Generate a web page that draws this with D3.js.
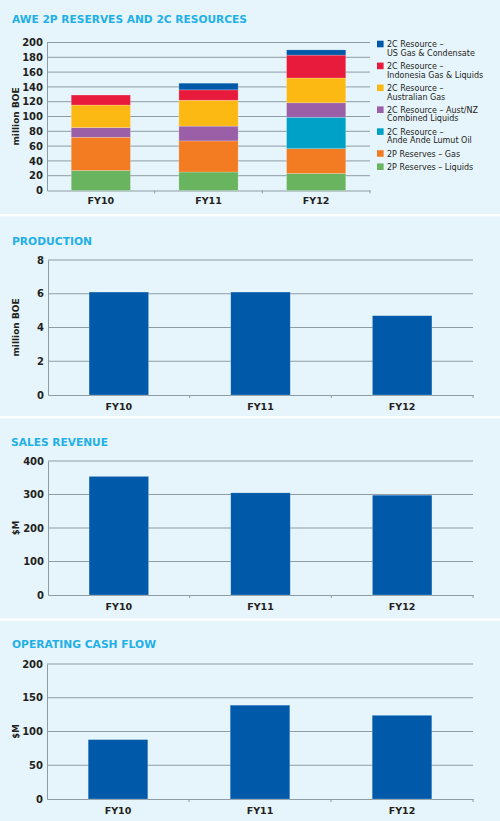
<!DOCTYPE html>
<html>
<head>
<meta charset="utf-8">
<script src="https://cdn.jsdelivr.net/npm/d3@7"></script>
<style>
  body { margin: 0; background: #e6f4fb; }
  svg { display: block; }
</style>
</head>
<body>
<div id="chart"></div>
<script>
// ---- data ----
var years = ['FY10', 'FY11', 'FY12'];

// stack series, bottom to top (million BOE)
var reserveSeries = ['liquids', 'gas', 'ande', 'austnz', 'ausgas', 'indo', 'us'];
var reserveNames = [
    ['2P Reserves \u2013 Liquids'],
    ['2P Reserves \u2013 Gas'],
    ['2C Resource \u2013', 'Ande Ande Lumut Oil'],
    ['2C Resource \u2013 Aust/NZ', 'Combined Liquids'],
    ['2C Resource \u2013', 'Australian Gas'],
    ['2C Resource \u2013', 'Indonesia Gas & Liquids'],
    ['2C Resource \u2013', 'US Gas & Condensate']
];
var liquids = [27, 25, 23];
var gas     = [45, 42, 33.5];
var ande    = [0, 0, 42.5];
var austnz  = [13, 20, 19.5];
var ausgas  = [30.5, 35, 33.5];
var indo    = [13.5, 14, 31];
var us      = [0, 9, 7];
var reserveTicks = [0, 20, 40, 60, 80, 100, 120, 140, 160, 180, 200];

var production = [6.1, 6.1, 4.7];
var productionTicks = [0, 2, 4, 6, 8];

var salesRevenue = [354, 305, 298];
var salesTicks = [0, 100, 200, 300, 400];

var cashFlow = [88, 139, 124];
var cashTicks = [0, 50, 100, 150, 200];

// ---- styles ----
var W = 500, H = 821;
var bg = '#e6f4fb';
var titleColor = '#1fb0e6';
var gridColor = '#8e9ca6';
var barBlue = '#005aa9';
var textColor = '#231f20';
var font = 'DejaVu Sans, Verdana, sans-serif';
var seriesColors = ['#68b45f', '#f37b21', '#00a1c7', '#9a5fa6', '#fdb913', '#e91b3d', '#0058a8'];

var svg = d3.select('#chart').append('svg')
    .attr('width', W)
    .attr('height', H);

svg.append('rect')
    .attr('width', W)
    .attr('height', H)
    .attr('fill', bg);

// white separators between the panels
[214, 416, 618.5].forEach(function(y){
    svg.append('rect')
        .attr('x', 0)
        .attr('y', y)
        .attr('width', W)
        .attr('height', 2.3)
        .attr('fill', '#ffffff');
});

function title(text, x, y, len){
    svg.append('text')
        .attr('x', x)
        .attr('y', y)
        .attr('font-family', font)
        .attr('font-weight', 'bold')
        .attr('font-size', '11px')
        .attr('fill', titleColor)
        .attr('textLength', len)
        .attr('lengthAdjust', 'spacingAndGlyphs')
        .text(text);
}

// draws the frame of one panel (grid, axes, labels) and returns the scales
function panelFrame(p){
    // bars sit centred in equal bands that start right at the axis
    var x = d3.scaleBand().domain(years).range([p.left, p.right])
        .paddingInner(p.pad).paddingOuter(p.pad / 2);
    var y = d3.scaleLinear().domain([0, p.ticks[p.ticks.length - 1]]).range([p.bottom, p.top]);

    var g = svg.append('g');

    // gridlines
    g.selectAll('line.grid')
        .data(p.ticks.slice(1))
        .enter().append('line')
        .attr('class', 'grid')
        .attr('x1', p.left)
        .attr('x2', p.right)
        .attr('y1', function(d){ return y(d); })
        .attr('y2', function(d){ return y(d); })
        .attr('stroke', gridColor)
        .attr('stroke-width', 1);

    // left axis with labels
    var yAxis = d3.axisLeft(y).tickValues(p.ticks).tickSize(0).tickPadding(4);
    var ya = g.append('g')
        .attr('transform', 'translate(' + p.left + ',0)')
        .call(yAxis);
    ya.select('.domain').attr('stroke', gridColor);
    ya.selectAll('text')
        .attr('font-family', font)
        .attr('font-weight', 'bold')
        .attr('font-size', '10px')
        .attr('fill', textColor);

    // baseline with small ticks between the bands
    var xAxis = d3.axisBottom(x).tickSize(0).tickPadding(p.labelPad);
    var xa = g.append('g')
        .attr('transform', 'translate(0,' + p.bottom + ')')
        .call(xAxis);
    xa.select('.domain').attr('stroke', gridColor).attr('stroke-width', 1.2);
    xa.selectAll('text')
        .attr('font-family', font)
        .attr('font-weight', 'bold')
        .attr('font-size', '9.5px')
        .attr('fill', textColor);

    var step = (p.right - p.left) / years.length;
    var bounds = [];
    for(var i = 1; i <= years.length; i++) bounds.push(p.left + i * step);
    g.selectAll('line.sep')
        .data(bounds)
        .enter().append('line')
        .attr('class', 'sep')
        .attr('x1', function(d){ return d; })
        .attr('x2', function(d){ return d; })
        .attr('y1', p.bottom)
        .attr('y2', p.bottom + 3)
        .attr('stroke', gridColor);

    // axis title
    g.append('text')
        .attr('transform', 'translate(' + p.labelX + ',' + ((p.top + p.bottom) / 2) + ') rotate(-90)')
        .attr('text-anchor', 'middle')
        .attr('font-family', font)
        .attr('font-weight', 'bold')
        .attr('font-size', p.labelSize)
        .attr('fill', textColor)
        .text(p.label);

    return {x: x, y: y, g: g};
}

function simpleBars(p, values){
    var s = panelFrame(p);
    s.g.selectAll('rect.bar')
        .data(values)
        .enter().append('rect')
        .attr('class', 'bar')
        .attr('x', function(d, i){ return s.x(years[i]); })
        .attr('width', s.x.bandwidth())
        .attr('y', function(d){ return s.y(d); })
        .attr('height', function(d){ return s.y(0) - s.y(d); })
        .attr('fill', barBlue)
        .attr('stroke', '#ffffff')
        .attr('stroke-opacity', 0.35)
        .attr('stroke-width', 0.6);
}

// ---- panel 1: reserves & resources (stacked) ----
title('AWE 2P RESERVES AND 2C RESOURCES', 12, 23, 235);

var rows = years.map(function(yr, i){
    return {year: yr, liquids: liquids[i], gas: gas[i], ande: ande[i], austnz: austnz[i],
            ausgas: ausgas[i], indo: indo[i], us: us[i]};
});
var stacked = d3.stack().keys(reserveSeries)(rows);

var s1 = panelFrame({left: 47, right: 370, top: 42.5, bottom: 190.5, pad: 0.45,
    ticks: reserveTicks, label: 'million BOE', labelX: 19, labelSize: '9px', labelPad: 7});

s1.g.selectAll('g.layer')
    .data(stacked)
    .enter().append('g')
    .attr('class', 'layer')
    .attr('fill', function(d, i){ return seriesColors[i]; })
    .selectAll('rect')
    .data(function(d){ return d.filter(function(v){ return v[1] > v[0]; }); })
    .enter().append('rect')
    .attr('x', function(d){ return s1.x(d.data.year); })
    .attr('width', s1.x.bandwidth())
    .attr('y', function(d){ return s1.y(d[1]); })
    .attr('height', function(d){ return s1.y(d[0]) - s1.y(d[1]); })
    .attr('stroke', '#ffffff')
    .attr('stroke-opacity', 0.35)
    .attr('stroke-width', 0.6);

// legend, top entry first
var legend = svg.append('g');
var ly = 44;
for(var k = reserveSeries.length - 1; k >= 0; k--){
    var lines = reserveNames[k];
    legend.append('rect')
        .attr('x', 377)
        .attr('y', ly - 3.3)
        .attr('width', 6.6)
        .attr('height', 6.6)
        .attr('fill', seriesColors[k]);
    var t = legend.append('text')
        .attr('x', 387)
        .attr('y', ly + 3)
        .attr('font-family', font)
        .attr('font-size', '8px')
        .attr('fill', textColor);
    lines.forEach(function(line, j){
        t.append('tspan')
            .attr('x', 387)
            .attr('dy', j === 0 ? 0 : 8.7)
            .text(line);
    });
    ly += lines.length * 8.7 + 4.5;
}

// ---- panel 2: production ----
title('PRODUCTION', 12, 245, 80);
simpleBars({left: 48, right: 473, top: 260, bottom: 395, pad: 0.58,
    ticks: productionTicks, label: 'million BOE', labelX: 19, labelSize: '9px', labelPad: 8}, production);

// ---- panel 3: sales revenue ----
title('SALES REVENUE', 11, 446, 97);
simpleBars({left: 48, right: 473, top: 461, bottom: 595, pad: 0.58,
    ticks: salesTicks, label: '$M', labelX: 19, labelSize: '8.5px', labelPad: 8}, salesRevenue);

// ---- panel 4: operating cash flow ----
title('OPERATING CASH FLOW', 12, 648, 144);
simpleBars({left: 47, right: 473, top: 664, bottom: 799, pad: 0.58,
    ticks: cashTicks, label: '$M', labelX: 19, labelSize: '8.5px', labelPad: 8}, cashFlow);
</script>
</body>
</html>
